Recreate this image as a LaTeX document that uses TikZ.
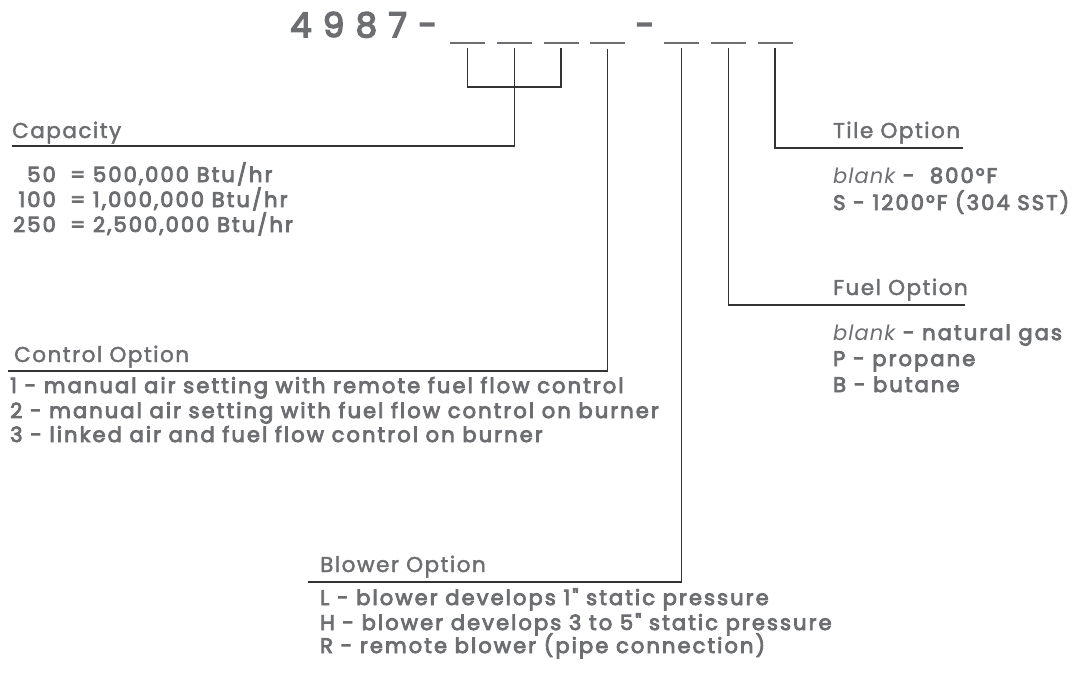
\documentclass[tikz,border=0pt]{standalone}
\usepackage{fontspec}
\setmainfont{Poppins}
\newfontfamily\hdrfont[FakeBold=2,LetterSpace=7]{Poppins}
\newfontfamily\itemfont[FakeBold=4,LetterSpace=10]{Poppins}
\newfontfamily\blankfont[LetterSpace=5]{Poppins}
\newfontfamily\codefont[FakeBold=4.5]{Poppins}
\definecolor{txt}{HTML}{6D6E71}
\definecolor{ln}{HTML}{333333}
\tikzset{
  hdr/.style={anchor=base west, inner sep=0pt, text=txt, font=\hdrfont\fontsize{21.5}{22}\selectfont},
  itm/.style={anchor=base west, inner sep=0pt, text=txt, font=\itemfont\fontsize{21}{22}\selectfont},
  itmr/.style={itm, anchor=base east},
  code/.style={anchor=base west, inner sep=0pt, text=txt, font=\codefont\fontsize{34}{34}\selectfont},
  slot/.style={fill=txt, inner sep=0pt, minimum width=35pt, minimum height=2.6pt},
  conn/.style={draw=ln, line width=1.3pt},
}
\begin{document}
\begin{tikzpicture}[x=1pt,y=-1pt]
\useasboundingbox (0,0) rectangle (1081,689);
% part number
\node[code] (num) at (290,37) {4\,\,9\,\,8\,\,7\,\,-};
\node[slot] (u1) at (467.5,43) {};
\node[slot] (u2) at (514.5,43) {};
\node[slot] (u3) at (561,43) {};
\node[slot] (u4) at (607.5,43) {};
\node[code, anchor=base] (dash) at (645,37) {-};
\node[slot] (u5) at (681.5,43) {};
\node[slot] (u6) at (728.5,43) {};
\node[slot] (u7) at (775,43) {};
% headers
\node[hdr] (cap) at (12,138) {Capacity};
\node[hdr] (ctl) at (14,362) {Control Option};
\node[hdr] (blw) at (320,572) {Blower Option};
\node[hdr] (fuel) at (833,295) {Fuel Option};
\node[hdr] (tile) at (833,138) {Tile Option};
% line ends
\coordinate (capL) at (12,146);
\coordinate (ctlL) at (8,371);
\coordinate (blwL) at (308,582);
\coordinate (fuelR) at (965,305);
\coordinate (tileR) at (963,148);
\coordinate (brR) at ([yshift=-3pt]u3.south |- 0,84);
% connectors
\draw[conn] ([yshift=-3pt]u1.south) |- (brR) -- ([yshift=-3pt]u3.south);
\draw[conn] ([yshift=-3pt]u2.south) |- (capL);
\draw[conn] ([yshift=-4pt]u4.south) |- (ctlL);
\draw[conn] ([yshift=-3pt]u5.south) |- (blwL);
\draw[conn] ([yshift=-3pt]u6.south) |- (fuelR);
\draw[conn] ([yshift=-3pt]u7.south) |- (tileR);
% capacity items
\node[itmr] (c1n) at (56,182) {50};
\node[itm] (c1) at (70,182) {= 500,000 Btu/hr};
\node[itmr] (c2n) at (56,207) {100};
\node[itm] (c2) at (70,207) {= 1,000,000 Btu/hr};
\node[itmr] (c3n) at (56,232) {250};
\node[itm] (c3) at (70,232) {= 2,500,000 Btu/hr};
% control items
\node[itm] (k1) at (10,393) {1 - manual air setting with remote fuel flow control};
\node[itm] (k2) at (10,418) {2 - manual air setting with fuel flow control on burner};
\node[itm] (k3) at (10,442) {3 - linked air and fuel flow control on burner};
% blower items
\node[itm] (b1) at (320,605) {L - blower develops 1" static pressure};
\node[itm] (b2) at (320,630) {H - blower develops 3 to 5" static pressure};
\node[itm] (b3) at (320,653) {R - remote blower (pipe connection)};
% tile items
\node[itm] (t1) at (833,183) {{\blankfont\itshape blank} -~~800°F};
\node[itm] (t2) at (833,210) {S - 1200°F (304 SST)};
% fuel items
\node[itm] (f1) at (833,340) {{\blankfont\itshape blank} - natural gas};
\node[itm] (f2) at (833,366) {P - propane};
\node[itm] (f3) at (833,392) {B - butane};
\end{tikzpicture}
\end{document}
